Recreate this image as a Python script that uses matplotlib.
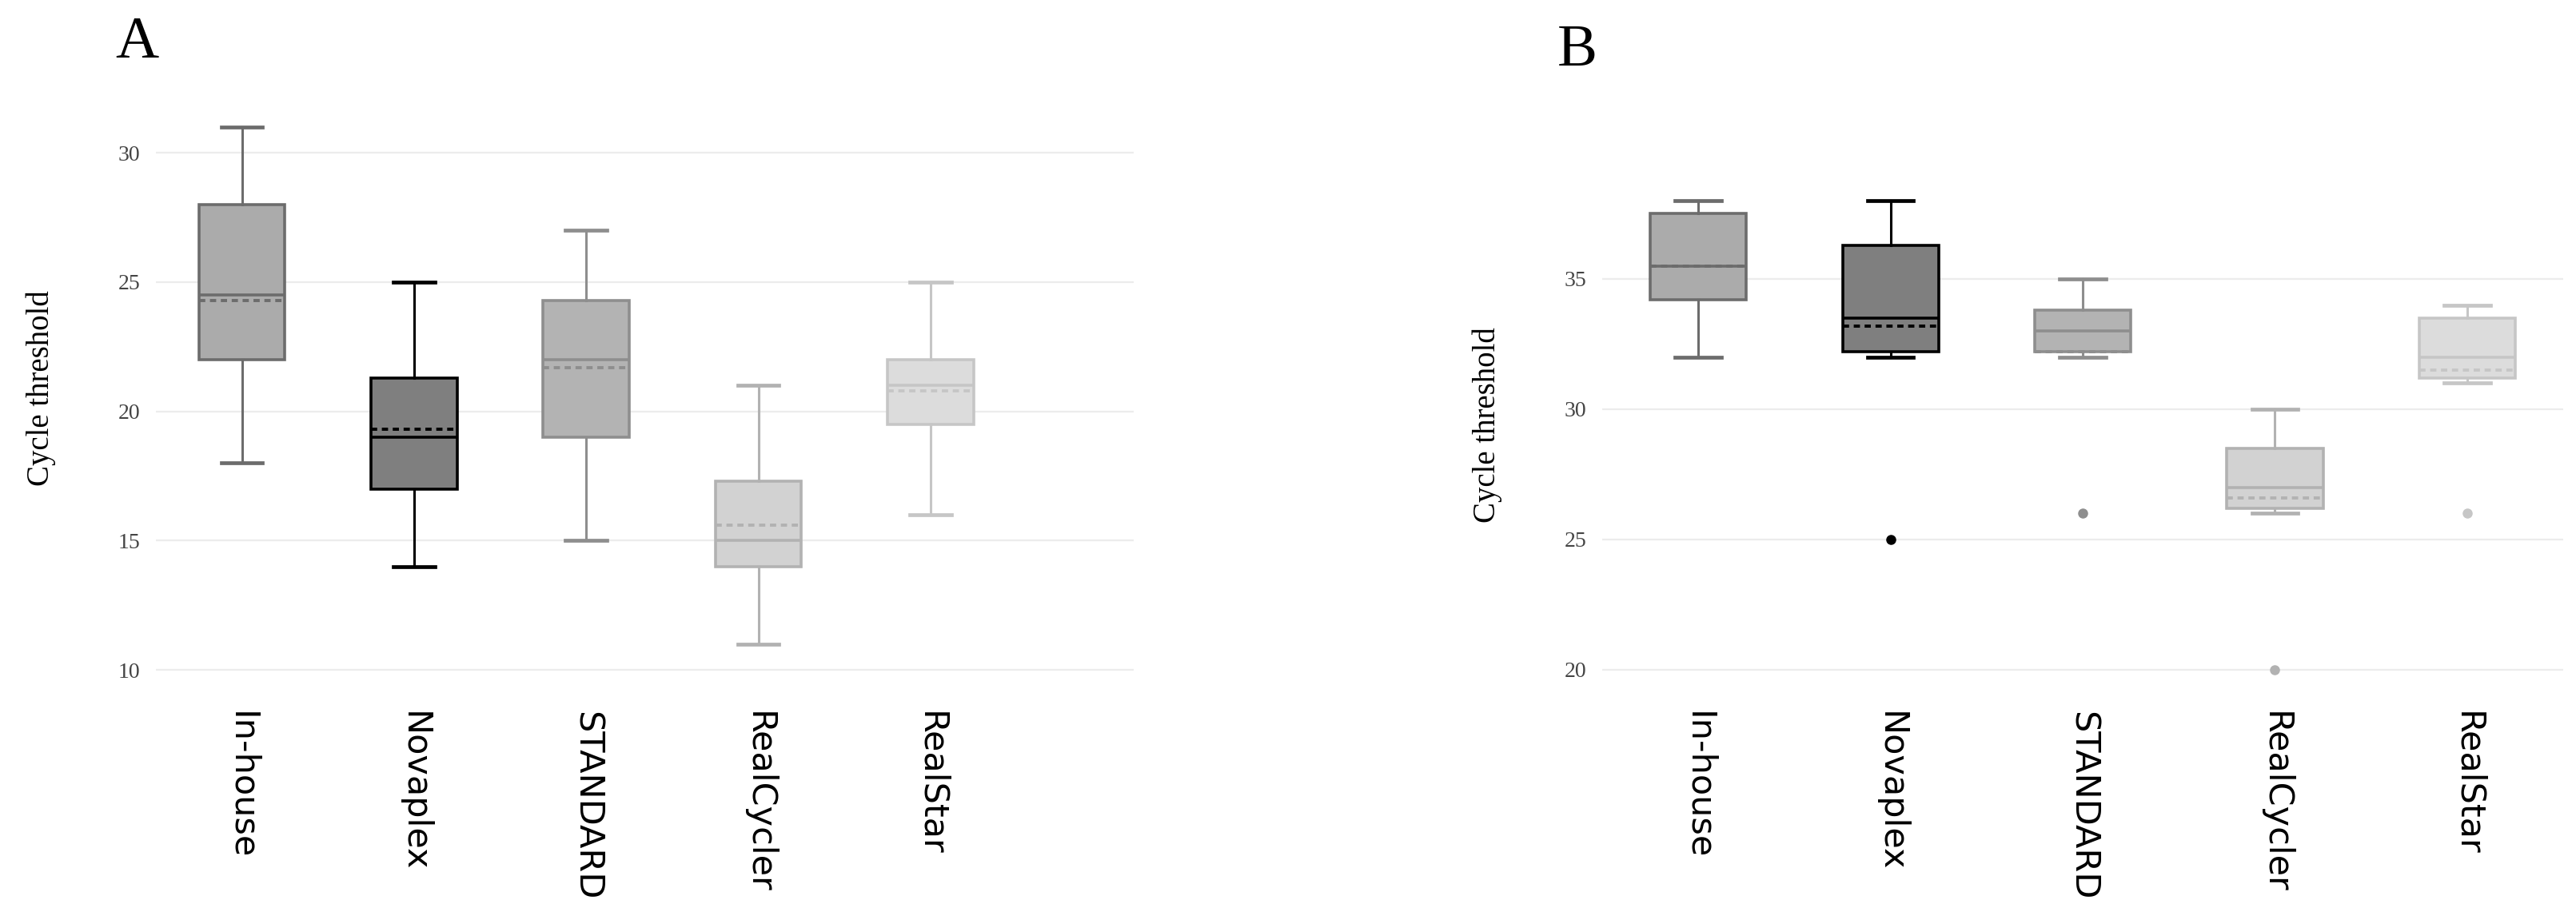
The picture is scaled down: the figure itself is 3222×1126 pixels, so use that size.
import matplotlib
matplotlib.use("Agg")
import matplotlib.pyplot as plt

# categories
kits = ["In-house", "Novaplex", "STANDARD", "RealCycler", "RealStar"]

# panel A box statistics
a_low = [18, 14, 15, 11, 16]
a_q1 = [22, 17, 19, 14, 19.5]
a_med = [24.5, 19, 22, 15, 21]
a_mean = [24.3, 19.3, 21.7, 15.6, 20.8]
a_q3 = [28, 21.3, 24.3, 17.3, 22]
a_high = [31, 25, 27, 21, 25]
a_out = [[], [], [], [], []]

# panel B box statistics
b_low = [32, 32, 32, 26, 31]
b_q1 = [34.2, 32.2, 32.2, 26.2, 31.2]
b_med = [35.5, 33.5, 33, 27, 32]
b_mean = [35.5, 33.2, 32.2, 26.6, 31.5]
b_q3 = [37.5, 36.3, 33.8, 28.5, 33.5]
b_high = [38, 38, 35, 30, 34]
b_out = [[], [25], [26], [20], [26]]

fills = ["#ababab", "#7f7f7f", "#b3b3b3", "#d2d2d2", "#dcdcdc"]
edges = ["#6c6c6c", "#000000", "#8e8e8e", "#b2b2b2", "#c6c6c6"]

W, H = 3222, 1126
fig = plt.figure(figsize=(W / 100, H / 100), dpi=100)


def draw_panel(rect, low, q1, med, mean, q3, high, out, ylim, xlim, yticks):
    ax = fig.add_axes(rect)
    for i in range(len(kits)):
        st = dict(whislo=low[i], q1=q1[i], med=med[i], mean=mean[i],
                  q3=q3[i], whishi=high[i], fliers=out[i])
        ec = edges[i]
        ax.bxp([st], positions=[i], widths=0.5, patch_artist=True,
               showmeans=True, meanline=True, capwidths=0.24,
               boxprops=dict(facecolor=fills[i], edgecolor=ec, linewidth=2.6),
               medianprops=dict(color=ec, linewidth=2.6),
               meanprops=dict(color=ec, linewidth=2.8, linestyle=(0, (2, 1.5))),
               whiskerprops=dict(color=ec, linewidth=2.2),
               capprops=dict(color=ec, linewidth=3.4),
               flierprops=dict(marker="o", markersize=8, markerfacecolor=ec,
                               markeredgecolor=ec))
    ax.set_xlim(*xlim)
    ax.set_ylim(*ylim)
    ax.set_yticks(yticks)
    ax.set_yticklabels([str(t) for t in yticks], family="Liberation Serif",
                       fontsize=20, color="#444444")
    ax.set_xticks(range(len(kits)))
    ax.set_xticklabels(kits, rotation=-90, family="DejaVu Sans", fontsize=31,
                       va="top", ha="center")
    ax.tick_params(length=0, pad=14)
    ax.tick_params(axis="x", pad=28)
    ax.grid(axis="y", color="#ececec", linewidth=1.6)
    ax.set_axisbelow(True)
    for s in ax.spines.values():
        s.set_visible(False)
    ax.set_ylabel("Cycle threshold", family="Liberation Serif", fontsize=28,
                  labelpad=56)
    return ax


def rect_for(left_px, right_px, top_px, bottom_px):
    return [left_px / W, 1 - bottom_px / H, (right_px - left_px) / W,
            (bottom_px - top_px) / H]


ax_a = draw_panel(rect_for(195, 1418, 120, 851), a_low, a_q1, a_med, a_mean,
                  a_q3, a_high, a_out, (9.6, 32.2), (-0.5, 5.18),
                  [10, 15, 20, 25, 30])
ax_b = draw_panel(rect_for(2004, 3206, 212, 851), b_low, b_q1, b_med, b_mean,
                  b_q3, b_high, b_out, (19.6, 39.2), (-0.5, 4.5),
                  [20, 25, 30, 35])

fig.text(144 / W, 1 - 72 / H, "A", family="Liberation Serif", fontsize=54)
fig.text(1948 / W, 1 - 82 / H, "B", family="Liberation Serif", fontsize=54)

fig.savefig("out.png", dpi=100)
